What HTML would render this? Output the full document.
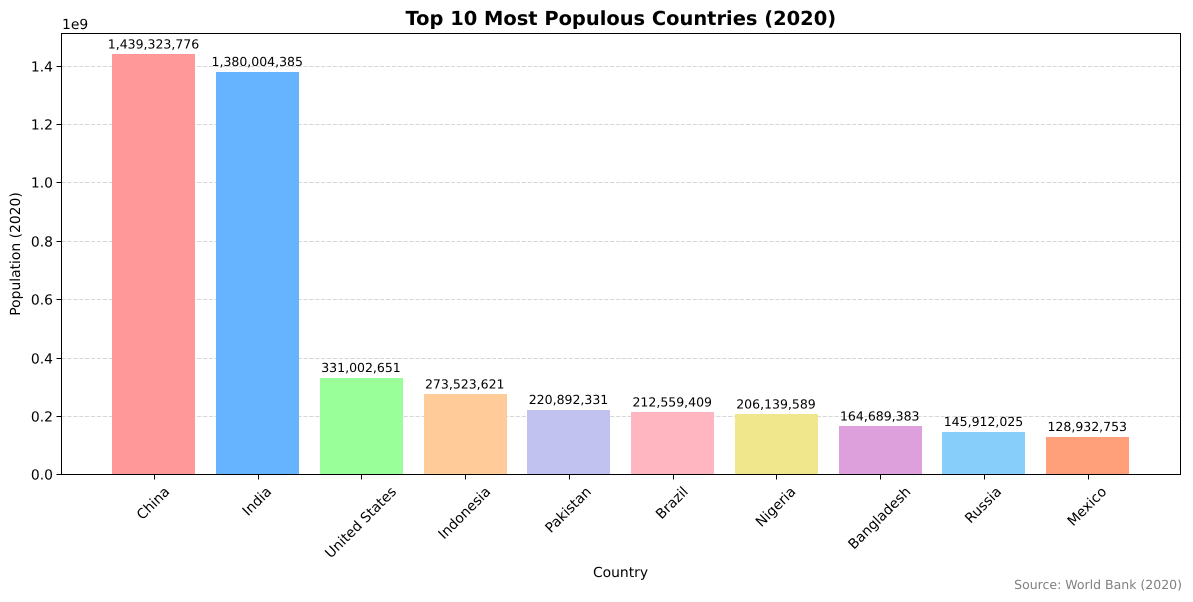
<!DOCTYPE html>
<html lang="en">
<head>
<meta charset="utf-8">
<title>Top 10 Most Populous Countries (2020)</title>
<style>
html,body{margin:0;padding:0;background:#fff;}
svg{display:block;}
text{font-family:"DejaVu Sans",sans-serif;fill:#000;text-rendering:geometricPrecision;}
</style>
</head>
<body>
<svg id="chart" xmlns="http://www.w3.org/2000/svg" width="1193" height="602" viewBox="0 0 1193 602">
<g id="grid"></g>
<g id="bars"></g>
<g id="labels"></g>
<g id="axes"></g>
<text x="620.8" y="25" text-anchor="middle" font-size="19.44" font-weight="bold">Top 10 Most Populous Countries (2020)</text>
<text x="62" y="29" font-size="13.89">1e9</text>
<text x="620.5" y="577" text-anchor="middle" font-size="13.89">Country</text>
<text transform="translate(20,254) rotate(-90)" text-anchor="middle" font-size="13.89">Population (2020)</text>
<text x="1182" y="589" text-anchor="end" font-size="12.5" style="fill:#808080">Source: World Bank (2020)</text>
</svg>
<script>
const categories = ["China","India","United States","Indonesia","Pakistan","Brazil","Nigeria","Bangladesh","Russia","Mexico"];
const populations = [1439323776,1380004385,331002651,273523621,220892331,212559409,206139589,164689383,145912025,128932753];
const barColors = ["#ff9999","#66b3ff","#99ff99","#ffcc99","#c2c2f0","#ffb6c1","#f0e68c","#dda0dd","#87cefa","#ffa07a"];
const yTicks = [0,0.2,0.4,0.6,0.8,1.0,1.2,1.4];
const yTickLabels = ["0.0","0.2","0.4","0.6","0.8","1.0","1.2","1.4"];

const NS = "http://www.w3.org/2000/svg";
const left = 61.46, right = 1179.9, top_ = 33.3, bottom = 474.3;
const frameLeft = 61.5, frameRight = 1180.5, frameTop = 33.5, frameBottom = 474.5;
const barWidth = 0.8;
const maxValue = Math.max.apply(null, populations);
const yMax = maxValue * 1.05;
const xMin = -barWidth / 2 - 0.05 * (categories.length - 1 + barWidth);
const xMax = categories.length - 1 + barWidth / 2 + 0.05 * (categories.length - 1 + barWidth);
function xScale(i) { return left + (i - xMin) / (xMax - xMin) * (right - left); }
function yScale(v) { return bottom - v / yMax * (bottom - top_); }
function make(tag, attrs, parent, text) {
  const el = document.createElementNS(NS, tag);
  Object.keys(attrs).forEach(function (k) { el.setAttribute(k, attrs[k]); });
  if (text !== undefined) el.textContent = text;
  parent.appendChild(el);
  return el;
}
const gridG = document.getElementById("grid");
const barsG = document.getElementById("bars");
const labelsG = document.getElementById("labels");
const axesG = document.getElementById("axes");

yTicks.forEach(function (t, i) {
  const y = Math.round(yScale(t * 1e9)) + 0.5;
  if (t > 0) {
    const g = make("line", {x1: frameLeft, x2: frameRight, y1: y, y2: y, stroke: "#000", "stroke-opacity": 0.16, "stroke-width": 1, "stroke-dasharray": "4.1 1.8"}, gridG);
    
    
  }
  const tick = make("line", {x1: frameLeft - 5, x2: frameLeft, y1: y, y2: y, stroke: "#000", "stroke-width": 1}, axesG);
  
  
  const lab = make("text", {x: frameLeft - 8.5, y: y + 5, "text-anchor": "end", "font-size": 13.89}, axesG, yTickLabels[i]);
  
  
});

categories.forEach(function (c, i) {
  const cx = xScale(i);
  const w = barWidth * (xScale(1) - xScale(0));
  const yTop = yScale(populations[i]);
  const x0 = Math.round(cx - w / 2);
  const x1 = Math.round(cx + w / 2);
  const y0 = Math.round(yTop);
  const bar = make("rect", {x: x0, y: y0, width: x1 - x0, height: Math.round(bottom) - y0, fill: barColors[i]}, barsG);
  
  
  const val = make("text", {x: cx - 0.3, y: yTop - 5.8, "text-anchor": "middle", "font-size": 12.5}, labelsG, populations[i].toLocaleString("en-US"));
  
  
  const tx = Math.round(cx) + 0.5;
  const tick = make("line", {x1: tx, x2: tx, y1: frameBottom, y2: frameBottom + 5, stroke: "#000", "stroke-width": 1}, axesG);
  
  
  const lab = make("text", {x: 0, y: 0, "text-anchor": "middle", "font-size": 13.89}, axesG, c);
  
  
  const len = lab.getComputedTextLength();
  const half = (len + 14) * Math.SQRT1_2 / 2;
  const cy = 484 + half;
  lab.setAttribute("transform", "translate(" + (cx - 0.9) + "," + cy + ") rotate(-45) translate(0,5)");
});

const frame = make("rect", {x: frameLeft, y: frameTop, width: frameRight - frameLeft, height: frameBottom - frameTop, fill: "none", stroke: "#000", "stroke-width": 1}, axesG);


</script>
</body>
</html>
